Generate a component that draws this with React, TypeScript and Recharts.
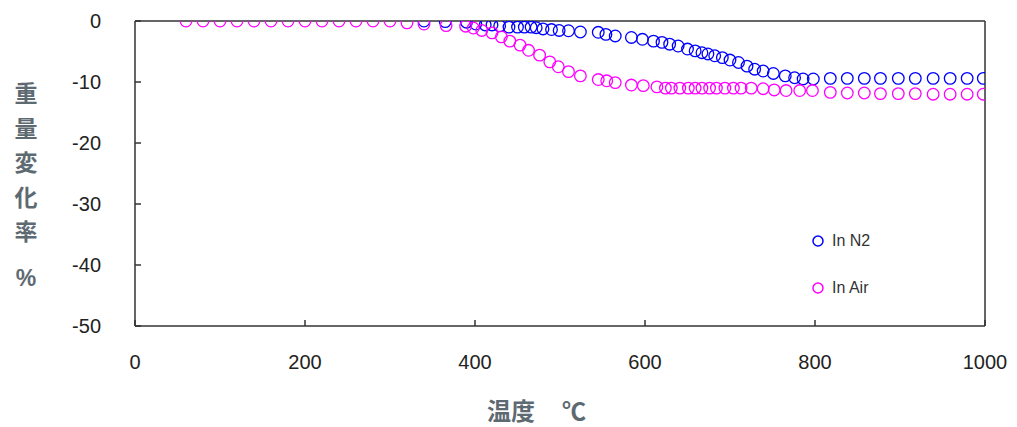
import React from 'react';
import { ScatterChart, Scatter, XAxis, YAxis, ReferenceLine } from 'recharts';

// TGA: weight change (%) vs temperature (°C)
const n2Temp = [340, 365, 390, 401, 412, 420, 429, 440, 450, 458, 466, 472, 480, 490, 499, 510, 524, 545, 554, 565, 584, 597, 610, 620, 629, 639, 650, 659, 667, 674, 682, 691, 700, 710, 720, 729, 739, 751, 765, 776, 786, 798, 818, 838, 858, 877, 898, 918, 939, 959, 979, 998];
const n2Weight = [0, -0.1, -0.2, -0.5, -0.65, -0.65, -0.8, -1.0, -1.0, -1.0, -1.0, -1.1, -1.3, -1.4, -1.55, -1.6, -1.8, -1.85, -2.2, -2.45, -2.7, -3.0, -3.3, -3.5, -3.8, -4.1, -4.6, -4.9, -5.2, -5.4, -5.7, -6.0, -6.4, -6.8, -7.4, -7.9, -8.2, -8.6, -9.0, -9.3, -9.5, -9.5, -9.4, -9.4, -9.4, -9.4, -9.4, -9.4, -9.4, -9.4, -9.4, -9.4];

const airTemp = [60, 80, 100, 120, 140, 160, 180, 200, 220, 240, 260, 280, 300, 320, 340, 366, 389, 398, 408, 420, 431, 441, 453, 463, 476, 488, 498, 510, 524, 545, 555, 565, 584, 598, 614, 624, 631, 641, 651, 659, 667, 676, 684, 694, 704, 713, 725, 739, 752, 766, 782, 797, 818, 838, 858, 877, 898, 918, 939, 959, 979, 998];
const airWeight = [0, 0, 0, 0, 0, 0, 0, 0, 0, 0, 0, 0, 0, -0.3, -0.5, -0.75, -0.85, -1.15, -1.55, -1.95, -2.6, -3.3, -3.95, -4.8, -5.6, -6.7, -7.5, -8.3, -9.0, -9.6, -9.8, -10.1, -10.5, -10.6, -10.8, -11.0, -11.0, -11.0, -11.0, -11.0, -11.0, -11.0, -11.0, -11.0, -11.0, -11.0, -11.0, -11.1, -11.3, -11.4, -11.4, -11.4, -11.7, -11.8, -11.8, -11.9, -11.9, -11.9, -12.0, -12.0, -12.0, -12.0];

const xTicks = [0, 200, 400, 600, 800, 1000];
const yTicks = [0, -10, -20, -30, -40, -50];
const seriesNames = ['In N2', 'In Air'];
const yTitleChars = ['重', '量', '変', '化', '率'];

const n2Data = n2Temp.map((t, i) => ({ t, w: n2Weight[i] }));
const airData = airTemp.map((t, i) => ({ t, w: airWeight[i] }));

const BLUE = '#0000ff';
const PINK = '#ff00ff';
const AXIS = '#333333';
const TITLE = '#5e6a72';
const tickFont = '"Liberation Sans", Arial, sans-serif';
const cjkFont = '"Noto Sans CJK JP", "Noto Sans", sans-serif';

const XTick = ({ x, y, payload }: any) => (
  <g>
    <line x1={x} y1={y} x2={x} y2={y - 6} stroke={AXIS} strokeWidth={1.5} />
    <text x={x} y={y + 43} textAnchor="middle" fontSize={20} fill="#222" fontFamily={tickFont}>
      {payload.value}
    </text>
  </g>
);

const YTick = ({ x, y, payload }: any) => (
  <g>
    <line x1={x} y1={y} x2={x + 6} y2={y} stroke={AXIS} strokeWidth={1.5} />
    <text x={x - 34} y={y + 7} textAnchor="end" fontSize={20} fill="#222" fontFamily={tickFont}>
      {payload.value}
    </text>
  </g>
);

const ring = (color: string) => (props: any) => (
  <circle cx={props.cx} cy={props.cy} r={5.8} fill="none" stroke={color} strokeWidth={1.3} />
);

const titleStyle: React.CSSProperties = {
  position: 'absolute',
  fontFamily: cjkFont,
  fontWeight: 700,
  fontSize: 23,
  lineHeight: '28px',
  color: TITLE,
};

export default function App() {
  return (
    <div style={{ position: 'relative', width: 1017, height: 427, background: '#fff' }}>
      <style>{'body{margin:0}'}</style>
      <ScatterChart width={1017} height={427} margin={{ top: 21, right: 32, left: 0, bottom: 0 }}>
        <XAxis
          type="number"
          dataKey="t"
          domain={[0, 1000]}
          ticks={xTicks}
          height={101}
          tickSize={0}
          tickMargin={0}
          tick={<XTick />}
          tickLine={false}
          axisLine={{ stroke: AXIS, strokeWidth: 1.5 }}
          allowDataOverflow
        />
        <YAxis
          type="number"
          dataKey="w"
          domain={[-50, 0]}
          ticks={yTicks}
          width={135}
          tickSize={0}
          tickMargin={0}
          tick={<YTick />}
          tickLine={false}
          axisLine={{ stroke: AXIS, strokeWidth: 1.5 }}
          allowDataOverflow
        />
        <ReferenceLine y={0} stroke={AXIS} strokeWidth={1.5} />
        <ReferenceLine x={1000} stroke={AXIS} strokeWidth={1.5} />
        <Scatter name={seriesNames[0]} data={n2Data} shape={ring(BLUE)} isAnimationActive={false} />
        <Scatter name={seriesNames[1]} data={airData} shape={ring(PINK)} isAnimationActive={false} />
      </ScatterChart>

      {/* legend */}
      {[BLUE, PINK].map((c, i) => (
        <div
          key={c}
          style={{
            position: 'absolute',
            left: 811,
            top: 232 + i * 47,
            display: 'flex',
            alignItems: 'center',
            fontFamily: tickFont,
            fontSize: 16,
            color: '#333',
          }}
        >
          <svg width={14} height={14} style={{ marginRight: 7 }}>
            <circle cx={7} cy={7} r={5} fill="none" stroke={c} strokeWidth={1.5} />
          </svg>
          {seriesNames[i]}
        </div>
      ))}

      {/* y axis title, stacked vertically */}
      {yTitleChars.map((ch, i) => (
        <div key={ch} style={{ ...titleStyle, left: 13, top: 78 + i * 34.5, width: 26, textAlign: 'center' }}>
          {ch}
        </div>
      ))}
      <div style={{ ...titleStyle, fontFamily: tickFont, left: 13, top: 264, width: 26, textAlign: 'center' }}>
        %
      </div>

      {/* x axis title */}
      <div style={{ ...titleStyle, fontSize: 24, left: 487, top: 395, lineHeight: '30px' }}>温度</div>
      <div style={{ ...titleStyle, fontSize: 24, left: 562, top: 395, lineHeight: '30px' }}>℃</div>
    </div>
  );
}
